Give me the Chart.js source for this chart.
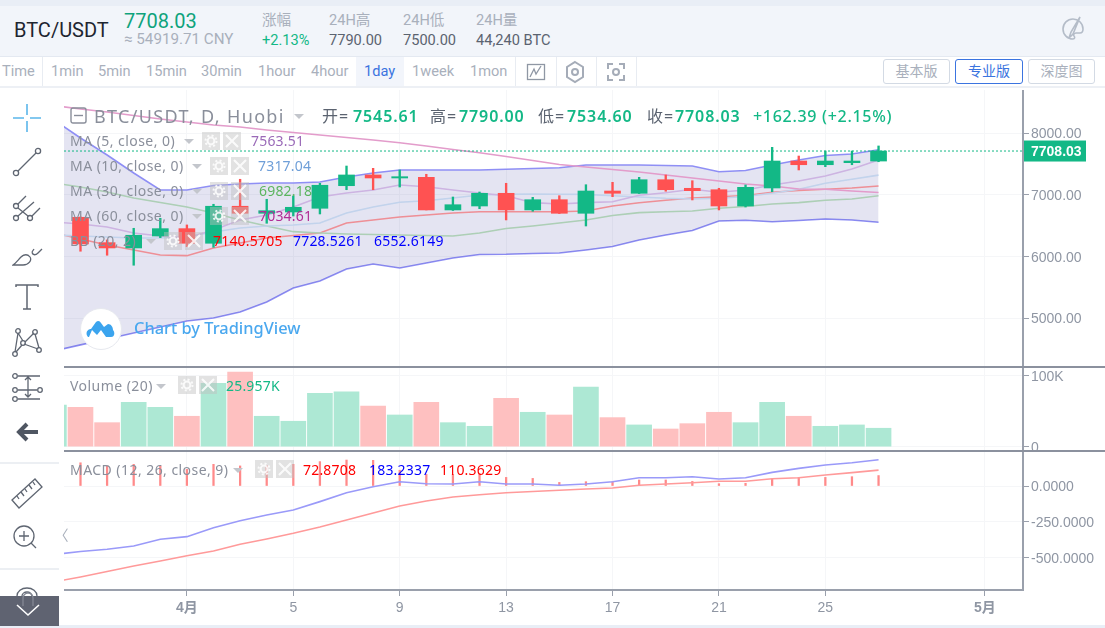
<!DOCTYPE html>
<html>
<head>
<meta charset="utf-8">
<title>BTC/USDT</title>
<script src="https://cdn.jsdelivr.net/npm/chart.js@4/dist/chart.umd.js"></script>
<style>
html,body{margin:0;padding:0;background:#fff;overflow:hidden}
body{width:1105px;height:628px;position:relative;font-family:Roboto,"Noto Sans CJK SC",sans-serif}
canvas{position:absolute;left:64px}
.box{position:absolute}
.t{position:absolute;white-space:nowrap;line-height:1;transform:translateY(-50%);font-size:14.6px}
.leg{font-family:"Noto Sans","Noto Sans CJK SC",sans-serif;color:#8a8f9b;font-size:14px;letter-spacing:.2px}
.nm{letter-spacing:.45px}
.ohlc{font-size:16px;color:#13b886;font-weight:600;letter-spacing:.9px}
.eq{font-size:16px;color:#5b6370;letter-spacing:1px}
.btn{position:absolute;top:59px;height:23px;line-height:23px;text-align:center;border:1px solid #d3dae4;border-radius:3px;color:#a9b0bc;font-size:14px;box-sizing:content-box}
.ib{position:absolute;width:18px;height:18px;background:rgba(190,190,190,.45)}
.ib svg{display:block;opacity:.85}
.caret{position:absolute;width:0;height:0;border-left:5px solid transparent;border-right:5px solid transparent;border-top:5px solid #c3c6cc}
.sep{position:absolute;top:57px;width:1px;height:29px;background:#e8ecf2}
svg.i{position:absolute;fill:none;stroke:#5f6672;stroke-width:1.3}
</style>
</head>
<body>
<div class="box" style="left:0;top:0;width:1105px;height:6px;background:#e9eef6"></div>
<div class="box" style="left:0;top:6px;width:1105px;height:50px;background:#f2f5fa"></div>
<div class="box" style="left:0;top:56px;width:1105px;height:1px;background:#e4e9f1"></div>
<div class="box" style="left:0;top:86px;width:1105px;height:2px;background:#edf0f5"></div>
<div class="box" style="left:0;top:625px;width:1105px;height:3px;background:#e9eef6"></div>

<canvas id="priceChart" width="1041" height="276" style="top:90px"></canvas>
<canvas id="volumeChart" width="1041" height="83" style="top:367px"></canvas>
<canvas id="macdChart" width="1041" height="169" style="top:451px"></canvas>
<div class="box" style="left:64px;top:366px;width:1041px;height:1.5px;background:#8b919e"></div>
<div class="box" style="left:64px;top:450px;width:1041px;height:1.5px;background:#8b919e"></div>

<!-- header -->
<div class="t" style="left:14px;top:30px;font-size:20px;color:#1e2530">BTC/USDT</div>
<div class="t" style="left:124px;top:21px;font-size:20px;color:#0fa37c">7708.03</div>
<div class="t" style="left:124px;top:40px;font-size:15.2px;color:#a9b0bc">≈ 54919.71 CNY</div>
<div class="t" style="left:262px;top:20px;color:#a9b0bc">涨幅</div>
<div class="t" style="left:262px;top:40px;color:#13b886">+2.13%</div>
<div class="t" style="left:329px;top:20px;color:#a9b0bc">24H高</div>
<div class="t" style="left:329px;top:40px;color:#5b6370">7790.00</div>
<div class="t" style="left:403px;top:20px;color:#a9b0bc">24H低</div>
<div class="t" style="left:403px;top:40px;color:#5b6370">7500.00</div>
<div class="t" style="left:476px;top:20px;color:#a9b0bc">24H量</div>
<div class="t" style="left:476px;top:40px;color:#5b6370">44,240 BTC</div>
<svg class="i" style="left:1061px;top:16px;stroke:#b4bcc8;stroke-width:1.6" width="24" height="26" viewBox="0 0 24 26"><path d="M12 3a10 10 0 1 0 0 20c2 0 2-2 1-3s0-3 2-3h4c2 0 3-2 3-4 0-6-5-10-10-10z"/><path d="M19 1l-9 15 -2 6 4-4z"/></svg>

<!-- interval row -->
<div class="box" style="left:356px;top:57px;width:48px;height:29px;background:#f2f5fb"></div>
<div class="t" style="left:2px;top:71px;color:#a9b0bc">Time</div>
<div class="sep" style="left:42px"></div>
<div class="t" style="left:51px;top:71px;color:#a9b0bc">1min</div>
<div class="t" style="left:98px;top:71px;color:#a9b0bc">5min</div>
<div class="t" style="left:146px;top:71px;color:#a9b0bc">15min</div>
<div class="t" style="left:201px;top:71px;color:#a9b0bc">30min</div>
<div class="t" style="left:258px;top:71px;color:#a9b0bc">1hour</div>
<div class="t" style="left:311px;top:71px;color:#a9b0bc">4hour</div>
<div class="t" style="left:364px;top:71px;color:#3b74e0">1day</div>
<div class="t" style="left:412px;top:71px;color:#a9b0bc">1week</div>
<div class="t" style="left:470px;top:71px;color:#a9b0bc">1mon</div>
<div class="sep" style="left:515px"></div>
<div class="sep" style="left:556px"></div>
<div class="sep" style="left:596px"></div>
<div class="sep" style="left:636px"></div>
<svg class="i" style="left:526px;top:62px;stroke:#8f97a4" width="20" height="20"><rect x="1.5" y="2.5" width="17" height="15"/><path d="M4 15l4-8 2 5 5-8"/></svg>
<svg class="i" style="left:565px;top:60px;stroke:#a5acb8;stroke-width:2" width="20" height="24"><path d="M10 2l8 5v10l-8 5-8-5V7z"/><circle cx="10" cy="12" r="3"/></svg>
<svg class="i" style="left:606px;top:62px;stroke:#a5acb8;stroke-width:2" width="20" height="20"><path d="M2 7V2h5M13 2h5v5M18 13v5h-5M7 18H2v-5"/><circle cx="10" cy="10" r="3"/></svg>
<div class="btn" style="left:883px;width:65px">基本版</div>
<div class="btn" style="left:955px;width:66px;border-color:#3b74e0;color:#3b74e0">专业版</div>
<div class="btn" style="left:1028px;width:65px">深度图</div>

<!-- drawing toolbar -->
<svg class="i" style="left:12px;top:103px;stroke:#5bb6ea;stroke-width:1.6" width="30" height="30"><path d="M1 15h11M18 15h11M15 1v11M15 18v11"/></svg>
<svg class="i" style="left:12px;top:147px" width="30" height="30"><circle cx="4" cy="26" r="2.6"/><circle cx="26" cy="4" r="2.6"/><path d="M6 24L24 6"/></svg>
<svg class="i" style="left:12px;top:192px" width="30" height="30"><circle cx="4" cy="14" r="2.5"/><circle cx="4" cy="26" r="2.5"/><circle cx="18" cy="26" r="2.5"/><path d="M6 12L14 4M6 24L22 10M20 24L28 16M6 16l10 8"/></svg>
<svg class="i" style="left:12px;top:239px" width="32" height="30"><path d="M1 26h10c6 0 9-5 7-8s-6-3-9 0-5 6-8 8z"/><path d="M20 13c1 4 4 3 6 1l4-4M20 13l2-3"/></svg>
<svg class="i" style="left:12px;top:282px;stroke-width:1.5" width="30" height="30"><path d="M4 5V3h22v2M15 3v24M11 27h8"/></svg>
<svg class="i" style="left:12px;top:327px" width="30" height="30"><circle cx="6" cy="4" r="2.3"/><circle cx="23" cy="5" r="2.3"/><circle cx="11" cy="16" r="2.3"/><circle cx="27" cy="23" r="2.3"/><circle cx="3" cy="27" r="2.3"/><path d="M6 6l5 8M3 25L6 6M13 15l9-9M12 17l14 5M23 7l4 14M4 25l6-7"/></svg>
<svg class="i" style="left:11px;top:373px" width="34" height="30"><circle cx="4" cy="3" r="2.3"/><circle cx="4" cy="17" r="2.3"/><circle cx="4" cy="26" r="2.3"/><circle cx="29" cy="17" r="2.3"/><path d="M7 3h22M7 17h19M7 26h22M17 4v20M14 7l3-3 3 3M14 21l3 3 3-3"/></svg>
<svg class="i" style="left:16px;top:421px;stroke:#4f5662;stroke-width:4" width="24" height="22"><path d="M11 3l-8 8 8 8M4 11h18"/></svg>
<div class="box" style="left:0;top:462px;width:59px;height:2px;background:#eceff3"></div>
<svg class="i" style="left:10px;top:477px" width="34" height="32"><path d="M2 23L25 2l7 8-23 21z"/><path d="M7 19l2 3M11 15l3 4M15 12l2 3M19 8l3 4M23 5l2 3"/></svg>
<svg class="i" style="left:13px;top:525px" width="26" height="26"><circle cx="11" cy="11" r="10"/><path d="M6 11h10M11 6v10M18 18l5 5"/></svg>
<div class="t" style="left:54px;top:536px;color:#a9b0bc">〈</div>
<div class="box" style="left:0;top:568px;width:59px;height:2px;background:#eceff3"></div>
<svg class="i" style="left:15px;top:587px" width="26" height="12"><path d="M2 12V9a10 8 0 0 1 20 0v3M7 12V9a5 4 0 0 1 10 0v3"/></svg>
<div class="box" style="left:0;top:596px;width:59px;height:30px;background:#5f6371"></div>
<svg class="i" style="left:15px;top:603px;stroke:#fff;stroke-width:1.6" width="26" height="14"><path d="M2 2l11 10L24 2"/></svg>
<svg class="i" style="left:20px;top:592px;stroke:#848894" width="16" height="14"><path d="M3 14V6a5 5 0 0 1 10 0v8"/></svg>

<!-- price legend -->
<svg class="i" style="left:70px;top:107px;stroke:#8a8f9b;stroke-width:1.4" width="17" height="17"><rect x="1" y="1" width="15" height="15" rx="2"/><path d="M4 8.5h9"/></svg>
<div class="t leg" style="left:94px;top:116px;font-size:18px;letter-spacing:1.35px">BTC/USDT, D, Huobi</div>
<div class="caret" style="left:294px;top:114px"></div>
<div class="t leg eq" style="left:322px;top:116px">开=</div>
<div class="t leg ohlc" style="left:353px;top:116px">7545.61</div>
<div class="t leg eq" style="left:430px;top:116px">高=</div>
<div class="t leg ohlc" style="left:459px;top:116px">7790.00</div>
<div class="t leg eq" style="left:538px;top:116px">低=</div>
<div class="t leg ohlc" style="left:567px;top:116px">7534.60</div>
<div class="t leg eq" style="left:647px;top:116px">收=</div>
<div class="t leg ohlc" style="left:675px;top:116px">7708.03</div>
<div class="t leg ohlc" style="left:753px;top:116px;font-weight:500;letter-spacing:.7px">+162.39 (+2.15%)</div>

<div class="t leg nm" style="left:70px;top:141px">MA (5, close, 0)</div>
<div class="caret" style="left:184px;top:139px"></div>
<div class="ib" data-x="202" data-y="132"></div>
<div class="t leg" style="left:251px;top:141px;color:#9a6ab8">7563.51</div>

<div class="t leg nm" style="left:70px;top:166px">MA (10, close, 0)</div>
<div class="caret" style="left:192px;top:164px"></div>
<div class="ib" data-x="210" data-y="157"></div>
<div class="t leg" style="left:258px;top:166px;color:#6f9fd8">7317.04</div>

<div class="t leg nm" style="left:70px;top:191px">MA (30, close, 0)</div>
<div class="caret" style="left:192px;top:189px"></div>
<div class="ib" data-x="210" data-y="182"></div>
<div class="t leg" style="left:259px;top:191px;color:#5cb560">6982.18</div>

<div class="t leg nm" style="left:70px;top:216px">MA (60, close, 0)</div>
<div class="caret" style="left:192px;top:214px"></div>
<div class="ib" data-x="210" data-y="207"></div>
<div class="t leg" style="left:259px;top:216px;color:#b12e96">7034.61</div>

<div class="t leg nm" style="left:70px;top:241px">BB (20, 2)</div>
<div class="caret" style="left:146px;top:239px"></div>
<div class="ib" data-x="164" data-y="232"></div>
<div class="t leg" style="left:213px;top:241px;color:#f00">7140.5705</div>
<div class="t leg" style="left:293px;top:241px;color:#00f">7728.5261</div>
<div class="t leg" style="left:374px;top:241px;color:#00f">6552.6149</div>

<!-- watermark -->
<div class="box" style="left:80px;top:308px;width:40px;height:40px;border-radius:50%;background:#fff;border:1px solid #e6e8ee"></div>
<svg class="i" style="left:86px;top:318px;fill:#3ba4ee;stroke:none" width="30" height="20"><path d="M2 19c-3-3-1-8 3-8l5-7c2-2 4-1 5 1l3 4 4-3c3 0 5 3 5 6 2 2 2 7-2 7h-5l-5-7-4 5-5-5-3 7z"/></svg>
<div class="t" style="left:134px;top:328px;font-size:16.4px;font-family:'Noto Sans',sans-serif;font-weight:500;color:#4aa8ef">Chart by TradingView</div>

<!-- volume legend -->
<div class="t leg nm" style="left:70px;top:386px">Volume (20)</div>
<div class="caret" style="left:156px;top:384px"></div>
<div class="ib" data-x="178" data-y="376"></div>
<div class="t leg" style="left:226px;top:386px;color:#13b886">25.957K</div>

<!-- macd legend -->
<div class="t leg nm" style="left:70px;top:470px">MACD (12, 26, close, 9)</div>
<div class="caret" style="left:233px;top:468px"></div>
<div class="ib" data-x="255" data-y="460"></div>
<div class="t leg" style="left:303px;top:470px;color:#f00">72.8708</div>
<div class="t leg" style="left:369px;top:470px;color:#00f">183.2337</div>
<div class="t leg" style="left:440px;top:470px;color:#f00">110.3629</div>

<script>
// days counted from 1 April, the first one only shows as a sliver of volume
var days = [-5,-4,-3,-2,-1,0,1,2,3,4,5,6,7,8,9,10,11,12,13,14,15,16,17,18,19,20,21,22,23,24,25,26];
var candleDays = days.slice(1);

var opens  = [6634,6223,6137,6331,6450,6213,6813,6699,6720,6780,7146,7320,7271,7282,6753,6817,7023,6753,6919,6699,7060,7023,7243,7104,7081,6817,7109,7546,7486,7519,7545.61];
var highs  = [6640,6267,6456,6618,6510,6845,7250,6926,6979,7185,7465,7428,7401,7331,6963,7044,7185,6958,6984,7162,7201,7282,7320,7227,7104,7158,7768,7627,7708,7708,7790];
var lows   = [6084,6019,5857,6304,6158,6148,6655,6537,6655,6688,7081,7081,7125,6753,6745,6774,6591,6732,6695,6493,6968,7020,7056,6915,6753,6801,7049,7401,7454,7486,7534.6];
var closes = [6202,6137,6343,6450,6213,6813,6699,6741,6796,7153,7320,7271,7292,6753,6838,7023,6753,6919,6699,7060,7023,7243,7081,7065,6817,7120,7546,7486,7546,7546,7708.03];

var ma5  = [6558,6526,6477,6380,6331,6299,6429,6591,6672,6801,6963,7028,7077,7158,7130,7077,7028,6984,6871,6850,6871,6887,6991,7033,7088,7039,7077,7158,7222,7303,7417,7563.51];
var ma10 = [6348,6331,6315,6299,6299,6315,6396,6461,6493,6510,6542,6704,6801,6877,6903,6947,6996,7007,7010,7007,7005,6984,6963,6942,6931,6942,6971,7023,7088,7185,7250,7317.04];
var ma30 = [7190,7125,7044,6947,6874,6801,6704,6591,6493,6401,6380,6364,6356,6348,6339,6331,6380,6453,6493,6542,6591,6663,6709,6725,6736,6780,6809,6850,6871,6910,6931,6982.18];
var ma60 = [8445,8389,8340,8284,8227,8178,8130,8097,8049,8008,7968,7927,7887,7843,7789,7733,7681,7619,7554,7490,7449,7409,7368,7320,7271,7222,7174,7141,7093,7088,7060,7034.61];
var bbUpper = [8211,7919,7644,7352,7077,7077,7150,7174,7190,7190,7206,7287,7352,7401,7401,7401,7401,7412,7425,7438,7482,7482,7482,7474,7465,7373,7393,7482,7563,7636,7660,7728.53];
var bbBasis = [6380,6283,6186,6105,6024,6012,6137,6218,6299,6340,6380,6542,6591,6639,6672,6704,6725,6725,6725,6725,6736,6817,6871,6910,6947,6968,6987,7039,7068,7088,7109,7140.57];
var bbLower = [4468,4566,4663,4760,4857,4954,5003,5100,5262,5489,5602,5797,5878,5813,5894,5975,6032,6035,6048,6056,6105,6161,6267,6348,6420,6574,6586,6563,6582,6607,6591,6552.61];
var lastPrice = 7708.03;

var volumes = [58700,55400,33800,62500,55400,42800,89000,105000,42800,35800,75200,77000,57300,44600,62500,33800,28700,68000,48400,44600,84000,40900,30600,24900,32400,48400,33800,62500,42800,28700,30600,25957];
var volumeUp = [true,false,false,true,true,false,true,false,true,true,true,true,false,true,false,true,true,false,true,false,true,false,true,false,false,false,true,true,false,true,true,true];

var macdLine   = [-477,-457,-441,-418,-371,-353,-291,-242,-202,-167,-109,-47,-5,30,16,14,30,14,14,5,14,30,58,58,65,49,58,95,123,146,162,183.23];
var signalLine = [-669,-634,-596,-558,-523,-486,-453,-406,-369,-330,-286,-237,-188,-139,-105,-77,-61,-47,-38,-30,-21,-14,5,14,23,33,33,51,58,77,93,110.36];
var macdHist   = [170,162,140,151,140,116,151,140,140,151,170,181,179,110,81,81,88,60,53,25,30,30,42,42,32,16,19,49,60,60,65,72.87];

var dateTicks  = [0,4,8,12,16,20,24,30];
var dateLabels = ['4月','5','9','13','17','21','25','5月'];
var priceTicks  = [5000,6000,7000,8000];
var priceLabels = ['5000.00','6000.00','7000.00','8000.00'];
var volumeTicks  = [0,100000];
var volumeLabels = ['0','100K'];
var macdTicks  = [-500,-250,0];
var macdLabels = ['-500.0000','-250.0000','0.0000'];

var GREEN = '#13b886', RED = '#ff5252';
var GRID = '#f5f6f8', AXIS = '#9aa0ac', LABEL = '#8f96a3';
var FONT = '"Liberation Sans","Noto Sans CJK SC",sans-serif';

function points(xs, ys) {
    return xs.map(function (x, i) { return {x: x, y: ys[i]}; });
}

function line(label, ys, color, width, order) {
    return {type: 'line', label: label, data: points(days, ys), borderColor: color, borderWidth: width,
        pointRadius: 0, tension: 0, order: order, fill: false};
}

function xAxis(showLabels) {
    return {
        type: 'linear', min: -4.62, max: 31.43, offset: false,
        grid: {color: GRID, offset: false, drawTicks: showLabels, tickLength: 6, tickColor: AXIS},
        border: {display: showLabels, color: AXIS, width: 2},
        afterBuildTicks: function (s) { s.ticks = dateTicks.map(function (v) { return {value: v}; }); },
        afterFit: function (s) {
            s.height = showLabels ? 30 : 0;
            s.paddingLeft = 0;
            s.paddingRight = 0;
        },
        ticks: {
            display: showLabels, autoSkip: false, maxRotation: 0, padding: 4,
            font: function (c) {
                var bold = c.tick && (c.tick.value === 0 || c.tick.value === 30);
                return {family: FONT, size: 14, weight: bold ? 'bold' : 'normal'};
            },
            color: LABEL,
            callback: function (v) { return dateLabels[dateTicks.indexOf(v)]; }
        }
    };
}

function yAxis(min, max, tickValues, tickLabels) {
    return {
        type: 'linear', position: 'right', min: min, max: max,
        grid: {color: GRID, tickLength: 6, tickColor: AXIS},
        border: {color: AXIS, width: 2},
        afterBuildTicks: function (s) { s.ticks = tickValues.map(function (v) { return {value: v}; }); },
        afterFit: function (s) {
            s.width = 82;
            // label overhang would otherwise shrink the pane
            s.paddingTop = 0;
            s.paddingBottom = 0;
        },
        ticks: {
            padding: 2, labelOffset: 1.5, color: LABEL, font: {family: FONT, size: 14},
            callback: function (v) { return tickLabels[tickValues.indexOf(v)]; }
        }
    };
}

function baseOptions(xs, ys) {
    return {
        responsive: false, animation: false, events: [],
        layout: {padding: 0},
        plugins: {legend: {display: false}, tooltip: {enabled: false}},
        scales: {x: xs, y: ys}
    };
}

// green tag with the last price, sits on the axis
var priceTag = {
    id: 'priceTag',
    afterDraw: function (chart) {
        var c = chart.ctx, s = chart.scales.y, py = s.getPixelForValue(lastPrice);
        c.save();
        c.fillStyle = GREEN;
        c.fillRect(chart.chartArea.right + 1, py - 10.5, 62, 21);
        c.fillStyle = '#fff';
        c.font = 'bold 14px ' + FONT;
        c.textBaseline = 'middle';
        c.fillText('7708.03', chart.chartArea.right + 8, py + 1);
        c.restore();
    }
};

var upDown = closes.map(function (v, i) { return v >= opens[i] ? GREEN : RED; });

new Chart(document.getElementById('priceChart'), {
    type: 'bar',
    data: {datasets: [
        {type: 'bar', label: 'body', grouped: false, barThickness: 16, order: 0, backgroundColor: upDown,
            data: candleDays.map(function (d, i) { return {x: d, y: [opens[i], closes[i]]}; })},
        {type: 'bar', label: 'wick', grouped: false, barThickness: 1.7, order: 1, backgroundColor: upDown,
            data: candleDays.map(function (d, i) { return {x: d, y: [lows[i], highs[i]]}; })},
        line('MA5', ma5, '#cdb4e2', 1.6, 3),
        line('MA10', ma10, '#c2d3ec', 1.6, 4),
        line('MA30', ma30, '#adcfb6', 1.6, 5),
        line('MA60', ma60, '#e39ccb', 1.6, 2),
        line('BB basis', bbBasis, '#ee8f96', 1.6, 6),
        Object.assign(line('BB upper', bbUpper, '#8f8ff5', 1.6, 7), {fill: '+1', backgroundColor: 'rgba(33,33,150,0.12)'}),
        line('BB lower', bbLower, '#8f8ff5', 1.6, 8),
        {type: 'line', label: 'last', data: [{x: -4.62, y: lastPrice}, {x: 31.43, y: lastPrice}], borderColor: GREEN,
            borderWidth: 1, borderDash: [2, 2], pointRadius: 0, order: 1.5}
    ]},
    options: baseOptions(xAxis(false), yAxis(4224, 8697, priceTicks, priceLabels)),
    plugins: [priceTag]
});

new Chart(document.getElementById('volumeChart'), {
    type: 'bar',
    data: {datasets: [
        {label: 'Volume', data: points(days, volumes), barThickness: 25, grouped: false,
            backgroundColor: volumeUp.map(function (u) { return u ? '#ade8d4' : '#fec0c0'; })}
    ]},
    options: baseOptions(xAxis(false), yAxis(-4650, 112100, volumeTicks, volumeLabels))
});

new Chart(document.getElementById('macdChart'), {
    type: 'bar',
    data: {datasets: [
        {type: 'bar', label: 'Histogram', data: points(days, macdHist), barThickness: 1.6, grouped: false,
            backgroundColor: '#ff8a8a', order: 2},
        line('MACD', macdLine, '#9a9af9', 1.6, 1),
        line('Signal', signalLine, '#ff9a9a', 1.6, 1)
    ]},
    options: baseOptions(xAxis(true), yAxis(-725, 244, macdTicks, macdLabels))
});

// gear and close buttons beside each legend row
document.querySelectorAll('.ib').forEach(function (el) {
    var x = +el.dataset.x, y = +el.dataset.y;
    el.style.left = x + 'px';
    el.style.top = y + 'px';
    el.innerHTML = '<svg width="18" height="18"><circle cx="9" cy="9" r="5.5" fill="none" stroke="#fff" stroke-width="2" stroke-dasharray="2 2.3"/><circle cx="9" cy="9" r="3.4" fill="none" stroke="#fff" stroke-width="2"/></svg>';
    var close = document.createElement('div');
    close.className = 'ib';
    close.style.left = (x + 21) + 'px';
    close.style.top = y + 'px';
    close.innerHTML = '<svg width="18" height="18"><path d="M3 3l12 12M15 3L3 15" stroke="#fff" stroke-width="2"/></svg>';
    el.parentNode.appendChild(close);
});
</script>
</body>
</html>
